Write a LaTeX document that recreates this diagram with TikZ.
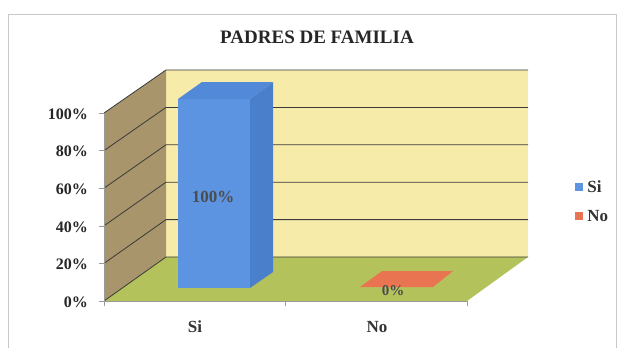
\documentclass[tikz,border=0pt]{standalone}
\usepackage{fontspec}
\setmainfont{Liberation Serif}
\usetikzlibrary{positioning, calc}
\definecolor{WallYellow}{HTML}{F7EBA9}
\definecolor{WallBrown}{HTML}{A8956B}
\definecolor{FloorGreen}{HTML}{B4C25B}
\definecolor{BarBlue}{HTML}{5C94E2}
\definecolor{BarBlueSide}{HTML}{4A7FCB}
\definecolor{BarBlueTop}{HTML}{5289D8}
\definecolor{BarOrange}{HTML}{E97452}
\definecolor{GridGray}{HTML}{3A3A3A}
\definecolor{AxisGray}{HTML}{9A9A9A}
\definecolor{FrameGray}{HTML}{C8C8CC}

\begin{document}
\begin{tikzpicture}[x=1pt, y=-1pt,
    axislabel/.style={anchor=east, inner sep=0pt, font=\fontsize{16}{18}\selectfont\bfseries, text=black!85},
    catlabel/.style={inner sep=0pt, font=\fontsize{17}{19}\selectfont\bfseries, text=black!80},
    keybox/.style={minimum size=8pt, inner sep=0pt}]
\useasboundingbox (0,0) rectangle (619,348);
\draw[FrameGray] (8,348) |- (616,14) -- (616,348);

% walls and floor
\fill[WallYellow] (166,70) rectangle (528,257);
\fill[WallBrown] (104,113) -- (166,70) -- (166,257) -- (104,301) -- cycle;
\fill[FloorGreen] (104,301) -- (166,257) -- (528,257) -- (467,301) -- cycle;

% grid lines
\foreach \i in {0,...,5} {
    \pgfmathsetmacro\yb{257-\i*37.4}
    \pgfmathsetmacro\yf{301-\i*37.6}
    \draw[GridGray, line width=0.8pt] (104,\yf) -- (166,\yb) -- (528,\yb);
    \draw[AxisGray] (99,\yf) -- (104,\yf);
}

% axes
\draw[AxisGray] (104,113) -- (104,301) -- (467,301);
\foreach \x in {104,285,467}
    \draw[AxisGray] (\x,301) -- (\x,306);

% bars
\fill[BarBlue] (178,99) rectangle (250,288);
\fill[BarBlueSide] (250,99) -- (273,82) -- (273,272) -- (250,288) -- cycle;
\fill[BarBlueTop] (178,99) -- (202,82) -- (273,82) -- (250,99) -- cycle;
\fill[BarOrange] (360,287) -- (382,271) -- (453,271) -- (433,287) -- cycle;

% texts
\node[font=\fontsize{19}{21}\selectfont\bfseries, text=black!85] (title) at (317,37) {PADRES DE FAMILIA};
\foreach \v [count=\i from 0] in {0,20,40,60,80,100}
    \node[axislabel] (tick\v) at (88,{302-\i*37.6}) {\v\%};
\node[catlabel] (catSi) at (195,327) {Si};
\node[catlabel] (catNo) at (377,327) {No};
\node[catlabel, text=black!70] (valSi) at (213,197) {100\%};
\node[catlabel, text=black!70, font=\fontsize{15}{17}\selectfont\bfseries] (valNo) at (393,291) {0\%};

% legend
\node[keybox, fill=BarBlue] (keySi) at (579,187) {};
\node[catlabel, anchor=west, right=4pt of keySi] (keySiText) {Si};
\node[keybox, fill=BarOrange] (keyNo) at (579,216) {};
\node[catlabel, anchor=west, right=4pt of keyNo] (keyNoText) {No};
\end{tikzpicture}
\end{document}
